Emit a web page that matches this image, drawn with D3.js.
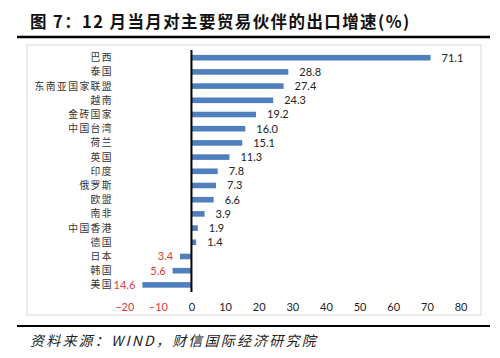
<!DOCTYPE html>
<html><head><meta charset="utf-8">
<script src="https://cdn.jsdelivr.net/npm/d3@7"></script>
<style>body{margin:0;background:#fff}svg{display:block}</style>
</head><body>
<svg id="c" width="500" height="358"></svg>
<script>
const categories = ["巴西","泰国","东南亚国家联盟","越南","金砖国家","中国台湾","荷兰","英国","印度","俄罗斯","欧盟","南非","中国香港","德国","日本","韩国","美国"];
const values = [71.1,28.8,27.4,24.3,19.2,16.0,15.1,11.3,7.8,7.3,6.6,3.9,1.9,1.4,-3.4,-5.6,-14.6];
const tickValues = [-20,-10,0,10,20,30,40,50,60,70,80];
const title = "图 7：12 月当月对主要贸易伙伴的出口增速(%)";
const source = "资料来源：WIND，财信国际经济研究院";

const svg = d3.select("#c");
const cjk = "'Noto Sans CJK SC','Noto Sans',sans-serif";
const num = "Lato,'Open Sans','Liberation Sans',sans-serif";

// title
svg.append("text").attr("x",30).attr("y",28).attr("font-family",cjk).attr("font-weight","bold")
  .attr("font-size",16.5).attr("letter-spacing",1.4).attr("fill","#111").text(title);
svg.append("line").attr("x1",17).attr("x2",490).attr("y1",37).attr("y2",37).attr("stroke","#000").attr("stroke-width",2.5);

// frame
svg.append("rect").attr("x",27).attr("y",45).attr("width",454).attr("height",270)
  .attr("fill","none").attr("stroke","#d9d9d9").attr("stroke-width",1);

const x = d3.scaleLinear().domain([-20,80]).range([124.2,460.5]);
const y = d3.scaleBand().domain(categories).range([50.6,292]).paddingInner(0.6).paddingOuter(0.3);

// bars
svg.append("g").selectAll("rect").data(values).join("rect")
  .attr("x",d=>x(Math.min(0,d))).attr("width",d=>Math.abs(x(d)-x(0)))
  .attr("y",(d,i)=>y(categories[i]) + y.bandwidth()/2 - 2.8).attr("height",5.6)
  .attr("fill","#4f7fbd");

// value labels
svg.append("g").selectAll("text").data(values).join("text")
  .attr("x",d=> d>=0 ? x(d)+11 : x(d)-7)
  .attr("y",(d,i)=>y(categories[i])+y.bandwidth()/2)
  .attr("dy","0.35em")
  .attr("text-anchor",d=>d>=0?"start":"end")
  .attr("font-family",num).attr("font-size",11)
  .attr("fill",d=>d>=0?"#222":"#e0383b")
  .text(d=>Math.abs(d).toFixed(1));

// category labels
svg.append("g").selectAll("text").data(categories).join("text")
  .attr("x",113).attr("y",d=>y(d)+y.bandwidth()/2).attr("dy","0.35em")
  .attr("text-anchor","end").attr("font-family",cjk).attr("font-size",9.8)
  .attr("letter-spacing",1.4).attr("fill","#333")
  .text(d=>d);

// zero axis line
svg.append("line").attr("x1",x(0)).attr("x2",x(0)).attr("y1",50).attr("y2",292)
  .attr("stroke","#000").attr("stroke-width",2);

// x axis tick labels
const ax = svg.append("g").attr("transform","translate(0,300)")
  .call(d3.axisBottom(x).tickValues(tickValues).tickSize(0).tickFormat(d3.format("d")));
ax.select(".domain").remove();
ax.selectAll("text").attr("font-family",num).attr("font-size",11)
  .attr("fill",d=>d<0?"#e0383b":"#222");

// bottom rule & source
svg.append("line").attr("x1",17).attr("x2",490).attr("y1",326).attr("y2",326).attr("stroke","#000").attr("stroke-width",2);
svg.append("text").attr("x",30).attr("y",346).attr("font-family",cjk).attr("font-style","italic")
  .attr("font-size",14).attr("letter-spacing",2.2).attr("fill","#222").text(source);
</script>
</body></html>
